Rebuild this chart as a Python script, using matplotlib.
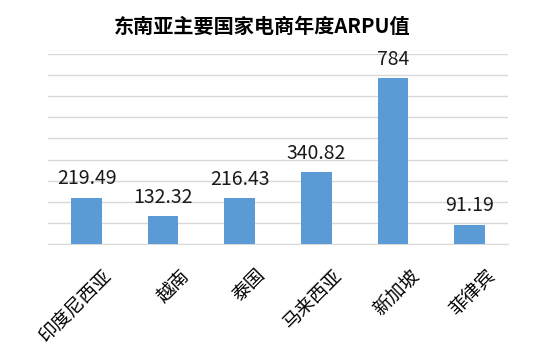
import numpy as np
import matplotlib.pyplot as plt
import matplotlib.transforms as mtransforms

plt.rcParams['font.family'] = ['Noto Sans CJK SC', 'DejaVu Sans']

# data
countries = ['印度尼西亚', '越南', '泰国', '马来西亚', '新加坡', '菲律宾']
arpu = [219.49, 132.32, 216.43, 340.82, 784, 91.19]
labels = ['219.49', '132.32', '216.43', '340.82', '784', '91.19']

fig = plt.figure(figsize=(5.54, 3.53), dpi=100)
ax = fig.add_axes([0.087, 0.309, 0.830, 0.538])

x = np.arange(len(countries))
bars = ax.bar(x, arpu, width=0.4, color='#5B9BD5', zorder=3)

for b, t in zip(bars, labels):
    ax.annotate(t, (b.get_x() + b.get_width() / 2, b.get_height()),
                xytext=(0, 6), textcoords='offset points',
                ha='center', va='bottom', fontsize=14, color='#1a1a1a')

ax.set_xlim(-0.5, len(countries) - 0.5)
ax.set_ylim(0, 900)
ax.set_yticks(np.arange(0, 901, 100))
ax.set_yticklabels([])
ax.tick_params(axis='y', length=0)
ax.tick_params(axis='x', length=0, pad=15)
ax.grid(axis='y', color='#D9D9D9', linewidth=1, zorder=0)

ax.set_xticks(x)
ax.set_xticklabels(countries, rotation=45, ha='right', rotation_mode='anchor',
                   fontsize=13.5, color='black')
offset = mtransforms.ScaledTranslation(11 / 72, 0, fig.dpi_scale_trans)
for lab in ax.get_xticklabels():
    lab.set_transform(lab.get_transform() + offset)

for s in ['top', 'right', 'left']:
    ax.spines[s].set_visible(False)
ax.spines['bottom'].set_color('#D9D9D9')

fig.text(0.473, 0.925, '东南亚主要国家电商年度ARPU值', ha='center', va='center',
         fontsize=14.5, fontweight='bold', color='black')

fig.savefig('out.png', dpi=100, facecolor='white')
